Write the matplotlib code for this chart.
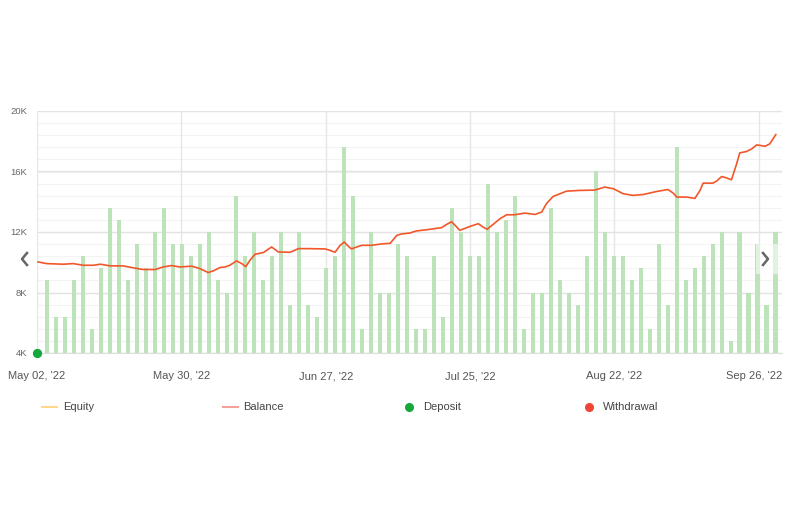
import matplotlib
matplotlib.use('Agg')
import matplotlib.pyplot as plt
import numpy as np
from matplotlib.lines import Line2D
from matplotlib.patches import Rectangle

plt.rcParams['font.family'] = ['Liberation Sans', 'DejaVu Sans']

# x axis: days since May 02, '22
tick_days = [0, 28, 56, 84, 112]
tick_labels = ["May 02, '22", "May 30, '22", "Jun 27, '22", "Jul 25, '22", "Aug 22, '22"]
end_label = "Sep 26, '22"
grid_days = [0, 28, 56, 84, 112, 140]

y_ticks = [4, 8, 12, 16, 20]
y_labels = ['4K', '8K', '12K', '16K', '20K']

# green bars (K)
bar_vals = [8.8, 6.4, 6.4, 8.8, 10.4, 5.6, 9.6, 13.6, 12.8, 8.8,
            11.2, 9.6, 12.0, 13.6, 11.2, 11.2, 10.4, 11.2, 12.0, 8.8,
            8.0, 14.4, 10.4, 12.0, 8.8, 10.4, 12.0, 7.2, 12.0, 7.2,
            6.4, 9.6, 10.4, 17.6, 14.4, 5.6, 12.0, 8.0, 8.0, 11.2,
            10.4, 5.6, 5.6, 10.4, 6.4, 13.6, 12.0, 10.4, 10.4, 15.2,
            12.0, 12.8, 14.4, 5.6, 8.0, 8.0, 13.6, 8.8, 8.0, 7.2,
            10.4, 16.0, 12.0, 10.4, 10.4, 8.8, 9.6, 5.6, 11.2, 7.2,
            17.6, 8.8, 9.6, 10.4, 11.2, 12.0, 4.8, 12.0, 8.0, 11.2,
            7.2, 12.0]

# balance line (day, K)
bal_days = [0.2, 1.9, 5.1, 7.0, 9.0, 10.9, 12.3, 14.2, 16.7, 18.7,
            20.6, 22.9, 24.5, 26.1, 27.7, 30.0, 31.6, 33.2, 34.2, 35.5,
            36.5, 37.4, 38.7, 39.7, 40.5, 41.3, 42.3, 43.9, 45.5, 46.8,
            49.1, 50.7, 52.6, 55.9, 56.8, 57.8, 58.8, 59.6, 60.4, 61.0,
            62.0, 63.0, 64.9, 66.8, 68.5, 69.8, 70.7, 72.3, 73.6, 75.6,
            78.5, 79.5, 80.4, 81.3, 82.0, 84.0, 85.6, 86.5, 87.3, 88.5,
            89.8, 91.1, 92.7, 94.6, 96.6, 97.9, 98.8, 100.1, 102.7, 105.3,
            108.2, 110.1, 111.8, 113.7, 115.6, 117.6, 120.2, 122.4, 123.4, 124.1,
            126.0, 127.6, 128.6, 129.2, 131.1, 131.8, 132.8, 133.7, 134.7, 135.7,
            136.3, 137.6, 138.6, 139.6, 141.2, 142.1, 143.3]
bal_vals = [10.02, 9.91, 9.87, 9.91, 9.80, 9.80, 9.87, 9.76, 9.76, 9.63,
            9.52, 9.52, 9.69, 9.78, 9.69, 9.74, 9.58, 9.32, 9.43, 9.65,
            9.69, 9.80, 10.09, 9.91, 9.71, 10.13, 10.53, 10.64, 11.01, 10.68,
            10.66, 10.90, 10.90, 10.88, 10.79, 10.66, 11.12, 11.34, 11.05, 10.88,
            11.01, 11.12, 11.12, 11.21, 11.25, 11.78, 11.87, 11.93, 12.07, 12.15,
            12.29, 12.51, 12.68, 12.37, 12.11, 12.37, 12.55, 12.33, 12.18, 12.51,
            12.88, 13.14, 13.14, 13.25, 13.16, 13.32, 13.87, 14.35, 14.70, 14.75,
            14.77, 14.97, 14.86, 14.53, 14.42, 14.48, 14.68, 14.81, 14.57, 14.31,
            14.31, 14.22, 14.75, 15.23, 15.23, 15.36, 15.67, 15.58, 15.45, 16.51,
            17.23, 17.32, 17.49, 17.76, 17.67, 17.82, 18.44]

deposit_day = [0]
deposit_val = [4]

W, H = 790, 516
fig = plt.figure(figsize=(W / 100, H / 100), dpi=100)
ax = fig.add_axes([37 / W, 1 - 353 / H, 745 / W, 242 / H])

x_end = 144.5
bar_x = np.linspace(1.88, 143.25, len(bar_vals))

ax.bar(bar_x, bar_vals, width=0.8, color='#bde3bb', zorder=2)
ax.plot(bal_days, bal_vals, color='#f2572a', lw=1.2, zorder=3)
ax.scatter(deposit_day, deposit_val, s=32, color='#16a83c', zorder=5, clip_on=False)

ax.set_xlim(0, x_end)
ax.set_ylim(4, 20)

# grid
for yv in np.arange(4, 20.01, 0.8):
    ax.axhline(yv, color='#f3f3f3', lw=0.8, zorder=0)
for yv in y_ticks:
    ax.axhline(yv, color='#e3e3e3', lw=1.0, zorder=1)
for xv in grid_days:
    ax.axvline(xv, color='#e6e6e6', lw=1.0, zorder=1)

for s in ['top', 'right', 'left']:
    ax.spines[s].set_visible(False)
ax.spines['bottom'].set_color('#dddddd')

ax.tick_params(axis='y', length=0, pad=7, labelsize=6.8, labelcolor='#666666')
ax.tick_params(axis='x', length=0, pad=19, labelsize=8, labelcolor='#555555')
ax.set_yticks(y_ticks)
ax.set_yticklabels(y_labels)
ax.set_xticks(tick_days + [x_end])
ax.set_xticklabels(tick_labels + [end_label], va='baseline')
ax.get_xticklabels()[-1].set_ha('right')

# navigation arrows
def px(x, y):
    return x / W, 1 - y / H

fig.add_artist(Rectangle(px(755.5, 274), 23 / W, 30 / H, transform=fig.transFigure,
                         facecolor='white', alpha=0.55, edgecolor='none', zorder=6))
for xs in ([27, 22, 27], [763, 768, 763]):
    pts = [px(x, y) for x, y in zip(xs, [253, 259, 265])]
    fig.add_artist(Line2D([p[0] for p in pts], [p[1] for p in pts], transform=fig.transFigure,
                          color='#666666', lw=1.8, zorder=7))

# legend
ly = 407
leg_color = '#444444'
l1 = [px(42, ly), px(57, ly)]
fig.add_artist(Line2D([l1[0][0], l1[1][0]], [l1[0][1], l1[1][1]], transform=fig.transFigure,
                      color='#ffd88a', lw=1.5))
fig.text(*px(63, ly), 'Equity', fontsize=8, color=leg_color, va='center')
l2 = [px(223, ly), px(238, ly)]
fig.add_artist(Line2D([l2[0][0], l2[1][0]], [l2[0][1], l2[1][1]], transform=fig.transFigure,
                      color='#f5a19b', lw=1.5))
fig.text(*px(243, ly), 'Balance', fontsize=8, color=leg_color, va='center')
d = px(409, ly)
fig.add_artist(Line2D([d[0]], [d[1]], transform=fig.transFigure, marker='o', ms=5.5,
                      color='#16a83c', lw=0))
fig.text(*px(423, ly), 'Deposit', fontsize=8, color=leg_color, va='center')
w = px(589, ly)
fig.add_artist(Line2D([w[0]], [w[1]], transform=fig.transFigure, marker='o', ms=5.5,
                      color='#ef4438', lw=0))
fig.text(*px(603, ly), 'Withdrawal', fontsize=8, color=leg_color, va='center')

fig.savefig('out.png', dpi=100)
